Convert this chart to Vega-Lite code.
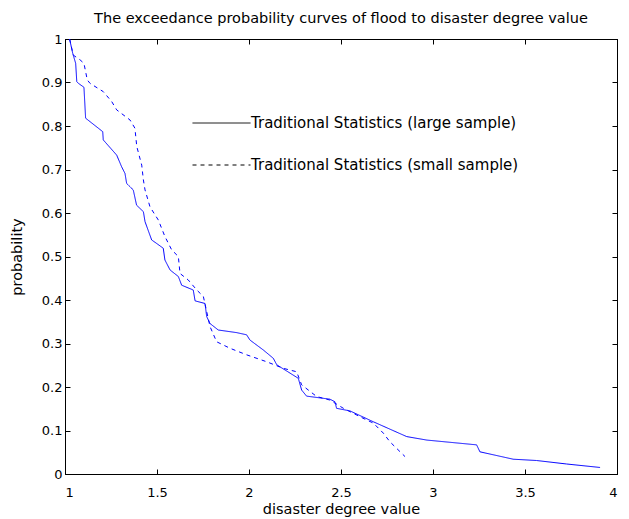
{
  "$schema": "https://vega.github.io/schema/vega-lite/v6.json",
  "autosize": "none",
  "width": 552,
  "height": 435,
  "padding": {"left": 65, "top": 39, "right": 12, "bottom": 45},
  "background": "white",
  "config": {
    "font": "DejaVu Sans",
    "view": {"stroke": "black", "strokeWidth": 1},
    "axis": {
      "grid": false,
      "domainColor": "black",
      "tickColor": "black",
      "tickSize": -5,
      "labelColor": "black",
      "labelFontSize": 13,
      "titleColor": "black",
      "titleFontSize": 14.5,
      "titleFontWeight": "normal"
    }
  },
  "title": {
    "text": "The exceedance probability curves of flood to disaster degree value",
    "fontSize": 14.5,
    "fontWeight": "normal",
    "color": "black",
    "anchor": "middle",
    "offset": 7
  },
  "data": {
    "values": [
      {"series": "Traditional Statistics (large sample)", "x": 1.025, "p": 1.0},
      {"series": "Traditional Statistics (large sample)", "x": 1.042, "p": 0.967},
      {"series": "Traditional Statistics (large sample)", "x": 1.058, "p": 0.944},
      {"series": "Traditional Statistics (large sample)", "x": 1.064, "p": 0.902},
      {"series": "Traditional Statistics (large sample)", "x": 1.073, "p": 0.898},
      {"series": "Traditional Statistics (large sample)", "x": 1.103, "p": 0.889},
      {"series": "Traditional Statistics (large sample)", "x": 1.112, "p": 0.818},
      {"series": "Traditional Statistics (large sample)", "x": 1.205, "p": 0.787},
      {"series": "Traditional Statistics (large sample)", "x": 1.208, "p": 0.768},
      {"series": "Traditional Statistics (large sample)", "x": 1.281, "p": 0.733},
      {"series": "Traditional Statistics (large sample)", "x": 1.308, "p": 0.706},
      {"series": "Traditional Statistics (large sample)", "x": 1.326, "p": 0.691},
      {"series": "Traditional Statistics (large sample)", "x": 1.335, "p": 0.668},
      {"series": "Traditional Statistics (large sample)", "x": 1.371, "p": 0.653},
      {"series": "Traditional Statistics (large sample)", "x": 1.389, "p": 0.618},
      {"series": "Traditional Statistics (large sample)", "x": 1.426, "p": 0.603},
      {"series": "Traditional Statistics (large sample)", "x": 1.435, "p": 0.580},
      {"series": "Traditional Statistics (large sample)", "x": 1.471, "p": 0.538},
      {"series": "Traditional Statistics (large sample)", "x": 1.498, "p": 0.530},
      {"series": "Traditional Statistics (large sample)", "x": 1.534, "p": 0.519},
      {"series": "Traditional Statistics (large sample)", "x": 1.543, "p": 0.492},
      {"series": "Traditional Statistics (large sample)", "x": 1.571, "p": 0.469},
      {"series": "Traditional Statistics (large sample)", "x": 1.616, "p": 0.454},
      {"series": "Traditional Statistics (large sample)", "x": 1.634, "p": 0.434},
      {"series": "Traditional Statistics (large sample)", "x": 1.697, "p": 0.423},
      {"series": "Traditional Statistics (large sample)", "x": 1.707, "p": 0.398},
      {"series": "Traditional Statistics (large sample)", "x": 1.761, "p": 0.392},
      {"series": "Traditional Statistics (large sample)", "x": 1.770, "p": 0.362},
      {"series": "Traditional Statistics (large sample)", "x": 1.788, "p": 0.346},
      {"series": "Traditional Statistics (large sample)", "x": 1.833, "p": 0.331},
      {"series": "Traditional Statistics (large sample)", "x": 1.933, "p": 0.325},
      {"series": "Traditional Statistics (large sample)", "x": 1.987, "p": 0.320},
      {"series": "Traditional Statistics (large sample)", "x": 2.005, "p": 0.308},
      {"series": "Traditional Statistics (large sample)", "x": 2.078, "p": 0.285},
      {"series": "Traditional Statistics (large sample)", "x": 2.132, "p": 0.266},
      {"series": "Traditional Statistics (large sample)", "x": 2.151, "p": 0.251},
      {"series": "Traditional Statistics (large sample)", "x": 2.268, "p": 0.220},
      {"series": "Traditional Statistics (large sample)", "x": 2.286, "p": 0.193},
      {"series": "Traditional Statistics (large sample)", "x": 2.313, "p": 0.179},
      {"series": "Traditional Statistics (large sample)", "x": 2.440, "p": 0.172},
      {"series": "Traditional Statistics (large sample)", "x": 2.467, "p": 0.166},
      {"series": "Traditional Statistics (large sample)", "x": 2.476, "p": 0.151},
      {"series": "Traditional Statistics (large sample)", "x": 2.549, "p": 0.145},
      {"series": "Traditional Statistics (large sample)", "x": 2.676, "p": 0.120},
      {"series": "Traditional Statistics (large sample)", "x": 2.857, "p": 0.086},
      {"series": "Traditional Statistics (large sample)", "x": 2.966, "p": 0.078},
      {"series": "Traditional Statistics (large sample)", "x": 3.237, "p": 0.067},
      {"series": "Traditional Statistics (large sample)", "x": 3.255, "p": 0.051},
      {"series": "Traditional Statistics (large sample)", "x": 3.436, "p": 0.034},
      {"series": "Traditional Statistics (large sample)", "x": 3.563, "p": 0.031},
      {"series": "Traditional Statistics (large sample)", "x": 3.726, "p": 0.023},
      {"series": "Traditional Statistics (large sample)", "x": 3.908, "p": 0.015},
      {"series": "Traditional Statistics (small sample)", "x": 1.025, "p": 1.0},
      {"series": "Traditional Statistics (small sample)", "x": 1.045, "p": 0.963},
      {"series": "Traditional Statistics (small sample)", "x": 1.082, "p": 0.952},
      {"series": "Traditional Statistics (small sample)", "x": 1.103, "p": 0.944},
      {"series": "Traditional Statistics (small sample)", "x": 1.121, "p": 0.906},
      {"series": "Traditional Statistics (small sample)", "x": 1.136, "p": 0.898},
      {"series": "Traditional Statistics (small sample)", "x": 1.208, "p": 0.879},
      {"series": "Traditional Statistics (small sample)", "x": 1.254, "p": 0.856},
      {"series": "Traditional Statistics (small sample)", "x": 1.281, "p": 0.837},
      {"series": "Traditional Statistics (small sample)", "x": 1.353, "p": 0.814},
      {"series": "Traditional Statistics (small sample)", "x": 1.380, "p": 0.795},
      {"series": "Traditional Statistics (small sample)", "x": 1.390, "p": 0.753},
      {"series": "Traditional Statistics (small sample)", "x": 1.417, "p": 0.710},
      {"series": "Traditional Statistics (small sample)", "x": 1.426, "p": 0.676},
      {"series": "Traditional Statistics (small sample)", "x": 1.435, "p": 0.653},
      {"series": "Traditional Statistics (small sample)", "x": 1.462, "p": 0.614},
      {"series": "Traditional Statistics (small sample)", "x": 1.507, "p": 0.584},
      {"series": "Traditional Statistics (small sample)", "x": 1.543, "p": 0.546},
      {"series": "Traditional Statistics (small sample)", "x": 1.580, "p": 0.515},
      {"series": "Traditional Statistics (small sample)", "x": 1.616, "p": 0.500},
      {"series": "Traditional Statistics (small sample)", "x": 1.625, "p": 0.461},
      {"series": "Traditional Statistics (small sample)", "x": 1.670, "p": 0.446},
      {"series": "Traditional Statistics (small sample)", "x": 1.716, "p": 0.423},
      {"series": "Traditional Statistics (small sample)", "x": 1.752, "p": 0.408},
      {"series": "Traditional Statistics (small sample)", "x": 1.788, "p": 0.339},
      {"series": "Traditional Statistics (small sample)", "x": 1.824, "p": 0.304},
      {"series": "Traditional Statistics (small sample)", "x": 1.897, "p": 0.289},
      {"series": "Traditional Statistics (small sample)", "x": 1.987, "p": 0.274},
      {"series": "Traditional Statistics (small sample)", "x": 2.096, "p": 0.258},
      {"series": "Traditional Statistics (small sample)", "x": 2.186, "p": 0.243},
      {"series": "Traditional Statistics (small sample)", "x": 2.259, "p": 0.235},
      {"series": "Traditional Statistics (small sample)", "x": 2.286, "p": 0.205},
      {"series": "Traditional Statistics (small sample)", "x": 2.368, "p": 0.178},
      {"series": "Traditional Statistics (small sample)", "x": 2.440, "p": 0.170},
      {"series": "Traditional Statistics (small sample)", "x": 2.513, "p": 0.151},
      {"series": "Traditional Statistics (small sample)", "x": 2.640, "p": 0.124},
      {"series": "Traditional Statistics (small sample)", "x": 2.676, "p": 0.117},
      {"series": "Traditional Statistics (small sample)", "x": 2.730, "p": 0.094},
      {"series": "Traditional Statistics (small sample)", "x": 2.766, "p": 0.074},
      {"series": "Traditional Statistics (small sample)", "x": 2.848, "p": 0.040}
    ]
  },
  "layer": [
    {
      "mark": {"type": "line", "color": "#0000ff", "strokeWidth": 1},
      "encoding": {
        "x": {
          "field": "x", "type": "quantitative",
          "scale": {"domain": [1, 4], "nice": false, "zero": false},
          "axis": {"orient": "bottom", "values": [1, 1.5, 2, 2.5, 3, 3.5, 4], "format": "~g", "labelPadding": 17, "title": "disaster degree value", "titlePadding": 3}
        },
        "y": {
          "field": "p", "type": "quantitative",
          "scale": {"domain": [0, 1], "nice": false},
          "axis": {"orient": "left", "values": [0, 0.1, 0.2, 0.3, 0.4, 0.5, 0.6, 0.7, 0.8, 0.9, 1], "format": "~g", "labelPadding": 8, "title": "probability", "titlePadding": 17}
        },
        "detail": {"field": "series"},
        "strokeDash": {
          "field": "series", "type": "nominal",
          "scale": {"domain": ["Traditional Statistics (large sample)", "Traditional Statistics (small sample)"], "range": [[1, 0], [4, 4]]},
          "legend": {
            "orient": "none", "legendX": 127, "legendY": 63,
            "title": null,
            "symbolType": "stroke", "symbolSize": 3364,
            "symbolStrokeColor": "black", "symbolStrokeWidth": 1,
            "labelFontSize": 15, "labelColor": "black", "labelOffset": 0, "labelLimit": 400,
            "clipHeight": 42,
            "rowPadding": 0
          }
        }
      }
    },
    {
      "mark": {"type": "line", "opacity": 0},
      "encoding": {
        "x": {
          "field": "x", "type": "quantitative",
          "scale": {"domain": [1, 4], "nice": false, "zero": false},
          "axis": {"orient": "top", "values": [1, 1.5, 2, 2.5, 3, 3.5, 4], "labels": false, "title": null}
        },
        "y": {
          "field": "p", "type": "quantitative",
          "scale": {"domain": [0, 1], "nice": false},
          "axis": {"orient": "right", "values": [0, 0.1, 0.2, 0.3, 0.4, 0.5, 0.6, 0.7, 0.8, 0.9, 1], "labels": false, "title": null}
        },
        "detail": {"field": "series"}
      }
    }
  ],
  "resolve": {"axis": {"x": "independent", "y": "independent"}}
}
